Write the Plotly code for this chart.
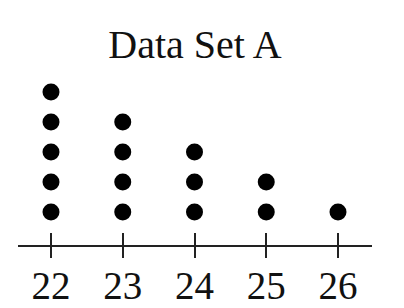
import plotly.graph_objects as go

values = [22, 23, 24, 25, 26]
counts = [5, 4, 3, 2, 1]
tick_labels = ["22", "23", "24", "25", "26"]
title_text = "Data Set A"

xs, ys = [], []
for v, c in zip(values, counts):
    for k in range(1, c + 1):
        xs.append(v)
        ys.append(k)

fig = go.Figure()
fig.add_trace(go.Scatter(x=xs, y=ys, mode="markers",
                         marker=dict(size=17, color="black"),
                         hoverinfo="skip", showlegend=False, cliponaxis=False))
for ax in ["x2", "x3"]:
    fig.add_trace(go.Scatter(x=values, y=[0] * len(values), mode="markers",
                             marker=dict(size=1, color="rgba(0,0,0,0)"),
                             xaxis=ax, hoverinfo="skip", showlegend=False))

xr = [21.54, 26.474]
tick_common = dict(range=xr, overlaying="x", anchor="y", side="bottom",
                   tickvals=values, showticklabels=False, automargin=False,
                   ticklen=12, tickwidth=2, tickcolor="#222",
                   showgrid=False, zeroline=False, showline=False)
fig.update_layout(
    width=404, height=308,
    margin=dict(l=18, r=32, t=77, b=63),
    paper_bgcolor="white", plot_bgcolor="white",
    title=dict(text=title_text, x=0.5, xref="paper", y=1 - 44 / 308,
               yref="container", yanchor="middle", xanchor="center",
               automargin=False,
               font=dict(family="Liberation Serif", size=40, color="#111")),
    xaxis=dict(range=xr, tickvals=values, ticktext=tick_labels,
               automargin=False,
               showline=True, linecolor="#222", linewidth=2,
               ticks="", ticklabelstandoff=5,
               showgrid=False, zeroline=False,
               tickfont=dict(family="Liberation Serif", size=39, color="#111")),
    xaxis2=dict(ticks="inside", **tick_common),
    xaxis3=dict(ticks="outside", **tick_common),
    yaxis=dict(range=[-0.1, 5.5], visible=False, showgrid=False, zeroline=False,
               automargin=False),
)

fig.write_html("out.html")
